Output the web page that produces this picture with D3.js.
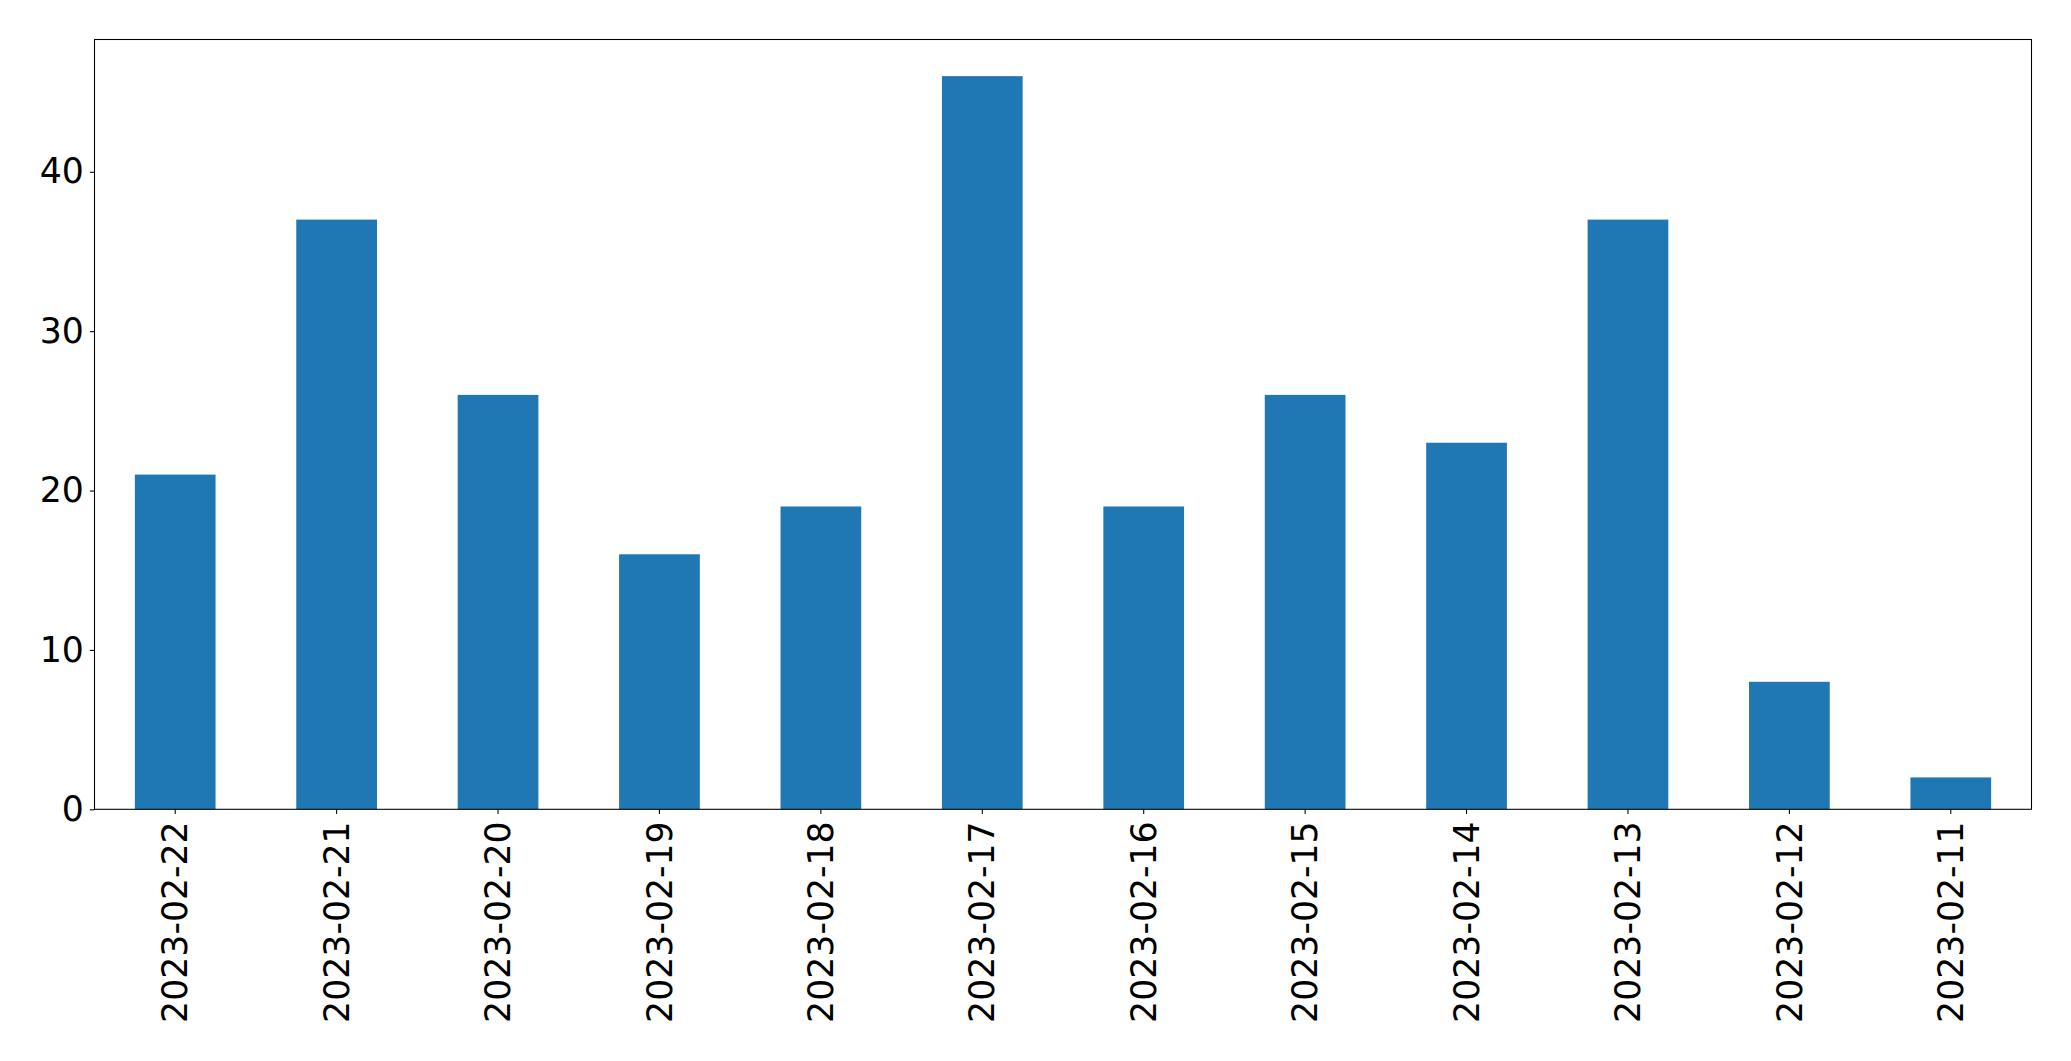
<!DOCTYPE html>
<html>
<head>
<meta charset="utf-8">
<script src="https://cdn.jsdelivr.net/npm/d3@7"></script>
<style>
  html, body { margin: 0; padding: 0; background: #fff; }
  svg { display: block; }
</style>
</head>
<body>
<svg id="chart" width="2071" height="1061"></svg>
<script>
const categories = ["2023-02-22","2023-02-21","2023-02-20","2023-02-19","2023-02-18","2023-02-17","2023-02-16","2023-02-15","2023-02-14","2023-02-13","2023-02-12","2023-02-11"];
const values = [21, 37, 26, 16, 19, 46, 19, 26, 23, 37, 8, 2];
const yTicks = [0, 10, 20, 30, 40];

const W = 2071, H = 1061;
const margin = {left: 94.5, right: W - 2031.5, top: 39.5, bottom: H - 809.3};
const svg = d3.select("#chart");
const fontFamily = "'DejaVu Sans', sans-serif";
const fontSize = "34.7px";

const x = d3.scaleBand()
  .domain(categories)
  .range([margin.left, W - margin.right])
  .paddingInner(0.5)
  .paddingOuter(0.25);

const yMax = d3.max(values) * 1.05;
const y = d3.scaleLinear().domain([0, yMax]).range([H - margin.bottom, margin.top]);

svg.append("g").selectAll("rect")
  .data(values)
  .join("rect")
  .attr("x", (d, i) => x(categories[i]))
  .attr("width", x.bandwidth())
  .attr("y", d => y(d))
  .attr("height", d => y(0) - y(d))
  .attr("fill", "#1f77b4");

// Y axis
const yAxis = svg.append("g")
  .attr("transform", `translate(${margin.left},0)`)
  .call(d3.axisLeft(y).tickValues(yTicks).tickSize(4.67).tickPadding(6).tickFormat(d3.format("d")));
yAxis.select(".domain").remove();
yAxis.selectAll("line").attr("stroke", "#000").attr("stroke-width", 1.07);
yAxis.selectAll("text")
  .attr("font-family", fontFamily)
  .attr("font-size", fontSize)
  .attr("fill", "#000");

// X axis
const xAxis = svg.append("g")
  .attr("transform", `translate(0,${H - margin.bottom})`)
  .call(d3.axisBottom(x).tickSize(4.67).tickPadding(4.67));
xAxis.select(".domain").remove();
xAxis.selectAll("line").attr("stroke", "#000").attr("stroke-width", 1.07);
xAxis.selectAll("text")
  .attr("font-family", fontFamily)
  .attr("font-size", fontSize)
  .attr("fill", "#000")
  .attr("transform", "rotate(-90)")
  .attr("text-anchor", "end")
  .attr("x", -12)
  .attr("y", 0)
  .attr("dy", "0.35em");

// Frame
svg.append("rect")
  .attr("x", margin.left)
  .attr("y", margin.top)
  .attr("width", W - margin.right - margin.left)
  .attr("height", H - margin.bottom - margin.top)
  .attr("fill", "none")
  .attr("stroke", "#000")
  .attr("stroke-width", 1.07);
</script>
</body>
</html>
